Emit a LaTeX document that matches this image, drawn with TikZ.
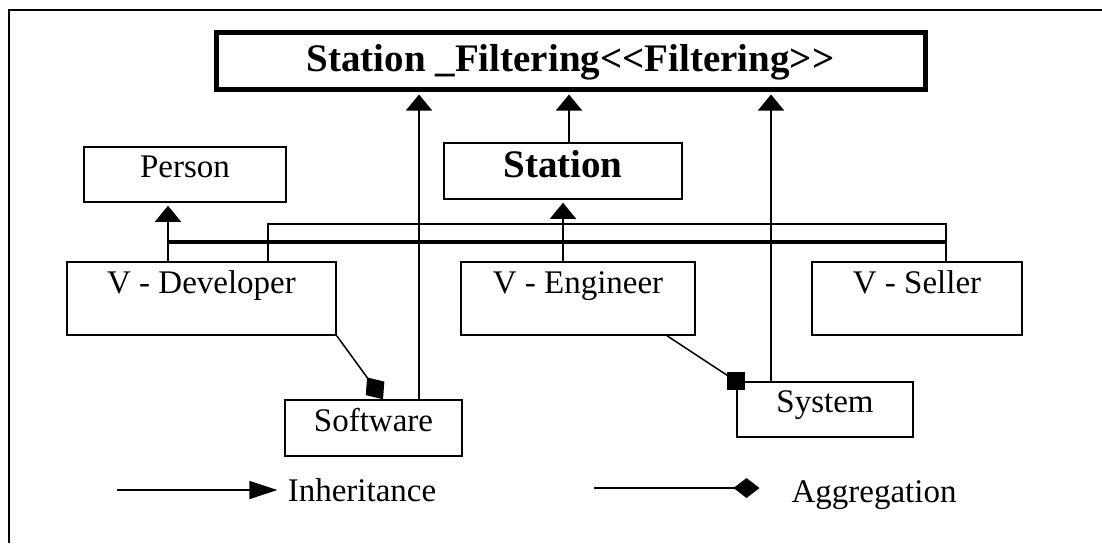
\documentclass[tikz,border=0pt]{standalone}
\usepackage{fontspec}
\setmainfont{Liberation Serif}
\usetikzlibrary{arrows.meta}

\newcommand{\umlfont}{\fontsize{16.5}{18}\selectfont}
\newcommand{\umlbold}{\fontsize{19.5}{22}\selectfont\bfseries}

\begin{document}
\begin{tikzpicture}[x=0.5pt, y=-0.5pt,
    cls/.style={draw, line width=0.75pt, inner sep=0pt, font=\umlfont,
                text height=11pt, text depth=8pt},
    vcls/.style={cls, minimum height=36.5pt, text depth=16.5pt},
    link/.style={line width=0.75pt},
    bus/.style={line width=1.6pt},
    inh/.style={link, -{Triangle[length=8pt, width=13pt]}, shorten >=1.5pt},
    agg/.style={link, -{Diamond[length=13.5pt, width=11.5pt]}},
    legtext/.style={font=\umlfont, inner sep=0pt}
]
\useasboundingbox (0,0) rectangle (1102,543);

% frame
\draw[link] (9,543) -- (9,10) -- (1102,10);

% classes
\node[draw, line width=2.5pt, inner sep=0pt, minimum width=354.5pt, minimum height=28.5pt,
      font=\umlbold, text height=13pt, text depth=2.5pt] (filt) at (570.5,60.5)
      {Station \_Filtering<{}<Filtering>{}>};
\node[cls, font=\umlbold, text height=13pt, text depth=7pt,
      minimum width=119pt, minimum height=28pt] (stn) at (563,171) {Station};
\node[cls, minimum width=101pt, minimum height=27.5pt] (per) at (185,174.5) {Person};
\node[vcls, minimum width=134.5pt] (dev) at (201.5,298.5) {V - Developer};
\node[vcls, minimum width=117pt] (eng) at (578,298.5) {V - Engineer};
\node[vcls, minimum width=105pt] (sel) at (917,298.5) {V - Seller};
\node[cls, minimum width=88.5pt, minimum height=28pt] (sw) at (373.5,428) {Software};
\node[cls, minimum width=88pt, minimum height=27.5pt] (sys) at (825,409.5) {System};

% inheritance
\coordinate (devp) at ([xshift=-16.75pt]dev.north);
\coordinate (devj) at ([xshift=33.25pt]dev.north);
\coordinate (selj) at ([xshift=14.5pt]sel.north);
\draw[bus] (devp |- 0,242) -- (selj |- 0,242);
\draw[link] (devj) -- (devj |- 0,224) -| (selj);
\draw[inh] (devp) -- (devp |- per.south);
\draw[inh] (eng.north -| stn.south) -- (stn.south);
\draw[inh] ([xshift=3pt]stn.north) -- ([xshift=3pt]stn.north |- filt.south);
\draw[inh] ([xshift=22.75pt]sw.north) -- ([xshift=22.75pt]sw.north |- filt.south);
\draw[inh] ([xshift=-27pt]sys.north) -- ([xshift=-27pt]sys.north |- filt.south);

% aggregation
\draw[agg] (dev.south east) -- ([xshift=4.75pt]sw.north);
\draw[link] ([xshift=44.5pt]eng.south) -- (sys.north west);
\fill (sys.north west) +(-4.5pt,-4.5pt) rectangle +(4.5pt,4.5pt);

% legend
\node[legtext, inner xsep=5pt] (inhtxt) at (362,490) {Inheritance};
\coordinate (li0) at (117,490);
\draw[link, -{Triangle[length=14pt, width=9pt]}] (li0) -- (inhtxt);
\node[legtext] (aggtxt) at (874,495) {Aggregation};
\coordinate (la0) at (594,488);
\coordinate (la1) at (759.5,488);
\draw[link, -{Diamond[length=13pt, width=10pt]}] (la0) -- (la1);
\end{tikzpicture}
\end{document}
